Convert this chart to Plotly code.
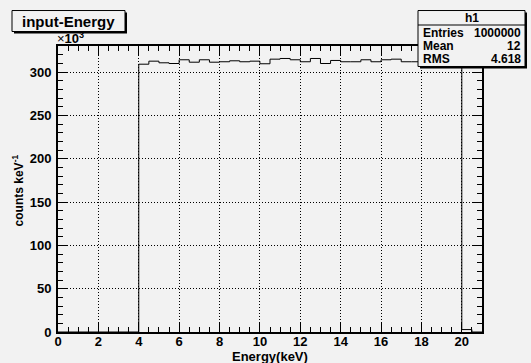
import plotly.graph_objects as go

# Histogram h1: 0.5 keV bins from 0 to 21 keV (counts per keV, in units of 10^3)
bin_width = 0.5
bin_lo = 0.0
counts_k = [
    0, 0, 0, 0, 0, 0, 0, 0,            # 0 - 4 keV
    309.2, 312.7, 310.8, 310.0,        # 4 - 6
    314.3, 311.5, 314.3, 311.5,        # 6 - 8
    312.0, 313.1, 312.0, 312.7,        # 8 - 10
    309.7, 315.0, 315.8, 314.3,        # 10 - 12
    312.0, 315.8, 310.0, 313.5,        # 12 - 14
    312.0, 312.0, 314.3, 312.0,        # 14 - 16
    314.3, 315.0, 312.0, 312.0,        # 16 - 18
    312.4, 313.5, 312.4, 313.0,        # 18 - 20
    2.8, 0,                            # 20 - 21
]

x_ticks = [0, 2, 4, 6, 8, 10, 12, 14, 16, 18, 20]
y_ticks = [0, 50, 100, 150, 200, 250, 300]

title_text = "input-Energy"
stats_name = "h1"
stats_rows = [("Entries", "1000000"), ("Mean", "12"), ("RMS", "4.618")]
x_title = "Energy(keV)"
y_title = "counts keV<sup>-1</sup>"

edges = [bin_lo + i * bin_width for i in range(len(counts_k) + 1)]
step_y = counts_k + [counts_k[-1]]

W, H = 531, 363
L, R, T, B = 58, 482, 45.5, 331.7
BG = "#f2f2f2"
FONT = "Liberation Sans"


def px(x):
    return (x - L) / (R - L)


def py(y):
    return (B - y) / (B - T)


fig = go.Figure()
fig.add_trace(go.Scatter(
    x=edges, y=step_y, mode="lines", line=dict(color="black", width=1, shape="hv"),
    hoverinfo="skip", showlegend=False,
))

axis_common = dict(
    showline=True, linecolor="black", linewidth=2, mirror="ticks",
    ticks="inside", ticklen=9, tickwidth=1, tickcolor="black",
    showgrid=True, gridcolor="black", griddash="1px,2px", gridwidth=1,
    zeroline=False, tickmode="array",
    tickfont=dict(family=FONT, size=13, color="black"),
)

fig.update_xaxes(
    range=[0, 21], tickvals=x_ticks, ticktext=[f"<b>{v}</b>" for v in x_ticks],
    ticklabelstandoff=-4,
    minor=dict(ticks="inside", ticklen=5, dtick=0.5, tickcolor="black", showgrid=False),
    **axis_common,
)
fig.update_yaxes(
    range=[0, 330.2], tickvals=y_ticks, ticktext=[f"<b>{v}</b>" for v in y_ticks],
    ticklabelstandoff=2,
    minor=dict(ticks="inside", ticklen=5, dtick=10, tickcolor="black", showgrid=False),
    **axis_common,
)

shapes = []
annotations = []

# Title box with drop shadow
tx0, tx1, ty0, ty1 = 12, 125, 10, 31
shapes.append(dict(type="rect", xref="paper", yref="paper",
                   x0=px(tx0 + 2), x1=px(tx1 + 2), y0=py(ty1 + 2), y1=py(ty0 + 2),
                   line=dict(width=0), fillcolor="black", layer="above"))
shapes.append(dict(type="rect", xref="paper", yref="paper",
                   x0=px(tx0), x1=px(tx1), y0=py(ty1), y1=py(ty0),
                   line=dict(color="black", width=1), fillcolor=BG, layer="above"))
annotations.append(dict(xref="paper", yref="paper", x=px((tx0 + tx1) / 2), y=py((ty0 + ty1) / 2),
                        text=f"<b>{title_text}</b>", showarrow=False, xanchor="center", yanchor="middle",
                        font=dict(family=FONT, size=15, color="black")))

# Statistics box with drop shadow
sx0, sx1, sy0, sy1 = 418, 525, 10, 66
shapes.append(dict(type="rect", xref="paper", yref="paper",
                   x0=px(sx0 + 2), x1=px(sx1 + 2), y0=py(sy1 + 2), y1=py(sy0 + 2),
                   line=dict(width=0), fillcolor="black", layer="above"))
shapes.append(dict(type="rect", xref="paper", yref="paper",
                   x0=px(sx0), x1=px(sx1), y0=py(sy1), y1=py(sy0),
                   line=dict(color="black", width=1), fillcolor=BG, layer="above"))
shapes.append(dict(type="line", xref="paper", yref="paper",
                   x0=px(sx0), x1=px(sx1), y0=py(24.5), y1=py(24.5),
                   line=dict(color="black", width=1), layer="above"))
stat_font = dict(family=FONT, size=12, color="black")
annotations.append(dict(xref="paper", yref="paper", x=px((sx0 + sx1) / 2), y=py(17.5),
                        text=f"<b>{stats_name}</b>", showarrow=False, xanchor="center", yanchor="middle",
                        font=stat_font))
for i, (name, val) in enumerate(stats_rows):
    yy = 32 + i * 13.5
    annotations.append(dict(xref="paper", yref="paper", x=px(sx0 + 3), y=py(yy),
                            text=f"<b>{name}</b>", showarrow=False, xanchor="left", yanchor="middle",
                            font=stat_font))
    annotations.append(dict(xref="paper", yref="paper", x=px(sx1 - 2), y=py(yy),
                            text=f"<b>{val}</b>", showarrow=False, xanchor="right", yanchor="middle",
                            font=stat_font))

# Axis exponent marker
annotations.append(dict(xref="paper", yref="paper", x=px(55), y=py(37),
                        text="×<b>10<sup>3</sup></b>", showarrow=False, xanchor="left", yanchor="middle",
                        font=dict(family=FONT, size=13, color="black")))

# Axis titles, centred on their axes
annotations.append(dict(xref="paper", yref="paper", x=0.5, y=py(356.5),
                        text=f"<b>{x_title}</b>", showarrow=False, xanchor="center", yanchor="middle",
                        font=dict(family=FONT, size=13, color="black")))
annotations.append(dict(xref="paper", yref="paper", x=px(18), y=py(190),
                        text=f"<b>{y_title}</b>", showarrow=False, xanchor="center", yanchor="middle",
                        textangle=-90,
                        font=dict(family=FONT, size=12, color="black")))

fig.update_layout(
    width=W, height=H, autosize=False,
    margin=dict(l=L, r=W - R, t=T, b=H - B, pad=0),
    paper_bgcolor=BG, plot_bgcolor=BG,
    shapes=shapes, annotations=annotations,
    showlegend=False,
)

fig.write_html("out.html", config={"displayModeBar": False})
